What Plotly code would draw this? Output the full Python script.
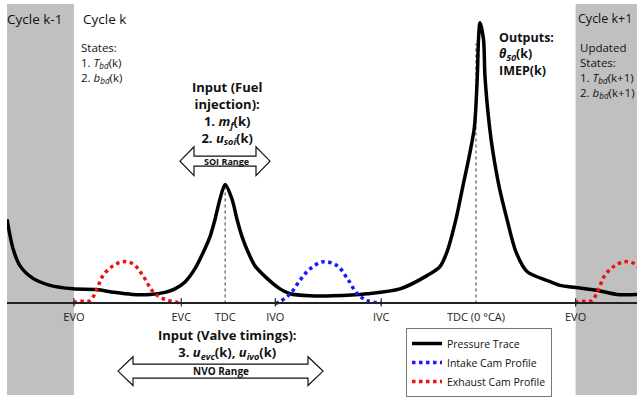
import plotly.graph_objects as go

# ---------------- data (schematic) ----------------
# crank angle in degrees (0 = combustion TDC), pressure in bar (schematic)
theta_p = [-673.1, -664.5, -654.4, -635.8, -611.4, -578.4, -545.1, -519.6, -493.2,
           -467.8, -446.3, -432.0, -417.6, -403.3, -388.9, -381.7, -374.5, -367.4,
           -360.0, -350.2, -343.0, -335.8, -327.2, -317.2, -299.9, -281.3, -266.9,
           -238.2, -205.2, -156.4, -109.1, -70.3, -51.7, -41.6, -28.7, -18.7, -8.6,
           -2.2, 1.9, 3.6, 5.7, 10.8, 12.9, 19.4, 24.4, 33.0, 44.5, 57.4, 73.2,
           101.9, 120.5, 143.5, 173.6, 202.3, 231.1]
pressure = [12.1, 7.9, 5.4, 3.6, 2.6, 2.1, 2.0, 1.6, 1.3,
            1.3, 1.6, 2.1, 3.1, 5.0, 7.9, 9.6, 12.1, 15.0,
            17.1, 15.0, 12.1, 9.6, 7.4, 5.4, 3.6, 2.1, 1.4,
            1.1, 1.1, 1.4, 2.1, 4.0, 5.3, 7.4, 12.1, 16.9, 21.7,
            25.4, 32.6, 37.9, 40.3, 37.9, 32.6, 25.4, 21.7, 16.9, 12.1, 7.4, 4.6,
            3.3, 2.6, 2.3, 1.9, 1.3, 1.3]

# valve events and TDCs (deg)
EVO = -577
EVC = -423
TDC_GE = -360
IVO = -288
IVC = -136
TDC_C = 0
EVO_NEXT = 143

# exhaust cam profile: degrees after EVO, scaled lift
exh_dtheta = [0, 4.3, 23, 33, 41.6, 56, 70.3, 84.7, 99, 113.4, 127.7, 154]
exh_lift = [0.0, 0.3, 0.4, 2.1, 4.0, 5.4, 6.0, 5.7, 4.0, 1.7, 0.7, 0.05]
# intake cam profile: degrees after IVO, scaled lift
int_dtheta = [0, 7.2, 21.5, 35.9, 50.2, 68.9, 89, 103.3, 117.7, 132, 152]
int_lift = [0.0, 0.3, 1.4, 3.4, 5.0, 6.0, 5.4, 3.6, 1.4, 0.4, 0.1]

tick_vals = [EVO, EVC, TDC_GE, IVO, IVC, TDC_C, EVO_NEXT]
tick_text = ["EVO", "EVC", "TDC", "IVO", "IVC", "TDC (0 °CA)", "EVO"]
valve_ticks = [EVO, EVC, IVO, IVC, EVO_NEXT]

X_RANGE = [-673.1, 231.1]
Y_RANGE = [-13.14, 43.0]

# ---------------- layout helpers (pixel -> paper) ----------------
W, H = 637, 397
ML, MT = 7, 4
PW, PH = W - ML, H - MT
FONT = "Open Sans"
TXT = "#111111"


def px(x):
    return (x - ML) / PW


def py(y):
    return (H - y) / PH


def ann(text, x, y, size, xanchor="left", yanchor="middle", bold=False, align="left"):
    if bold:
        text = "<b>" + text + "</b>"
    return dict(text=text, x=px(x), y=py(y), xref="paper", yref="paper",
                xanchor=xanchor, yanchor=yanchor, showarrow=False, align=align,
                font=dict(family=FONT, size=size, color=TXT))


def darrow(cx, cy, half, head, sh, hh):
    pts = [(cx - half, cy), (cx - half + head, cy - hh), (cx - half + head, cy - sh),
           (cx + half - head, cy - sh), (cx + half - head, cy - hh), (cx + half, cy),
           (cx + half - head, cy + hh), (cx + half - head, cy + sh),
           (cx - half + head, cy + sh), (cx - half + head, cy + hh)]
    path = "M " + " L ".join(f"{px(a):.5f},{py(b):.5f}" for a, b in pts) + " Z"
    return dict(type="path", path=path, xref="paper", yref="paper",
                fillcolor="white", line=dict(color="#111", width=1.2), layer="above")


fig = go.Figure()

fig.add_trace(go.Scatter(x=theta_p, y=pressure, mode="lines", name="Pressure Trace",
                         line=dict(color="black", width=3.5, shape="spline", smoothing=0.8)))
fig.add_trace(go.Scatter(x=[IVO + d for d in int_dtheta], y=int_lift, mode="lines",
                         name="Intake Cam Profile",
                         line=dict(color="#1a1aff", width=3.5, dash="dot", shape="spline")))
fig.add_trace(go.Scatter(x=[EVO + d for d in exh_dtheta], y=exh_lift, mode="lines",
                         name="Exhaust Cam Profile",
                         line=dict(color="#ee1111", width=3.5, dash="dot", shape="spline")))
fig.add_trace(go.Scatter(x=[EVO_NEXT + d for d in exh_dtheta], y=exh_lift, mode="lines",
                         showlegend=False,
                         line=dict(color="#ee1111", width=3.5, dash="dot", shape="spline")))

shapes = [
    dict(type="rect", xref="x", yref="paper", x0=X_RANGE[0], x1=EVO, y0=0, y1=1,
         fillcolor="#c0c0c0", line=dict(width=0), layer="below"),
    dict(type="rect", xref="x", yref="paper", x0=EVO_NEXT, x1=X_RANGE[1], y0=0, y1=1,
         fillcolor="#c0c0c0", line=dict(width=0), layer="below"),
    dict(type="line", xref="x", yref="y", x0=TDC_GE, x1=TDC_GE, y0=0,
         y1=pressure[theta_p.index(TDC_GE)], line=dict(color="#333", width=1, dash="dot"),
         layer="below"),
    dict(type="line", xref="x", yref="y", x0=TDC_C, x1=TDC_C, y0=0,
         y1=max(pressure) - 3, line=dict(color="#333", width=1, dash="dot"), layer="below"),
]
for v in valve_ticks:
    shapes.append(dict(type="line", xref="x", yref="y", x0=v, x1=v, y0=-0.45, y1=0.75,
                       line=dict(color="#222", width=1.2)))
shapes.append(darrow(225, 162, 45, 14, 5, 14.5))
shapes.append(darrow(220.5, 373, 102.5, 15, 7, 14.5))

annotations = [
    ann("Cycle k-1", 5, 19, 13.5),
    ann("Cycle k", 81, 19, 13.5),
    ann("States:<br>1. <i>T</i><sub><i>bd</i></sub>(k)<br>2. <i>b</i><sub><i>bd</i></sub>(k)",
        79, 38, 11.5, yanchor="top"),
    ann("Input (Fuel<br>injection):<br>1. <i>m</i><sub><i>f</i></sub>(k)<br>"
        "2. <i>u</i><sub><i>soi</i></sub>(k)", 227, 76, 13, "center", "top", True, "center"),
    ann("SOI Range", 226, 162, 9, "center", bold=True),
    ann("Outputs:<br><i>θ</i><sub><i>50</i></sub>(k)<br>IMEP(k)", 497, 27.5, 12.5,
        yanchor="top", bold=True),
    ann("Cycle k+1", 576, 19, 12.5),
    ann("Updated<br>States:<br>1. <i>T</i><sub><i>bd</i></sub>(k+1)<br>"
        "2. <i>b</i><sub><i>bd</i></sub>(k+1)", 578, 38, 11.5, yanchor="top"),
    ann("Input (Valve timings):<br>3. <i>u</i><sub><i>evc</i></sub>(k), "
        "<i>u</i><sub><i>ivo</i></sub>(k)", 228, 326, 13, "center", "top", True, "center"),
    ann("NVO Range", 221, 373, 10, "center", bold=True),
]

fig.update_layout(
    width=W, height=H, margin=dict(l=ML, r=0, t=MT, b=0),
    paper_bgcolor="white", plot_bgcolor="white",
    font=dict(family=FONT, color=TXT),
    xaxis=dict(range=X_RANGE, showgrid=False, zeroline=False, showline=True,
               linecolor="#222", linewidth=2, anchor="free", position=py(305),
               tickmode="array", tickvals=tick_vals, ticktext=tick_text, ticks="",
               ticklabelstandoff=3,
               tickfont=dict(family=FONT, size=11, color="#222")),
    yaxis=dict(range=Y_RANGE, visible=False, domain=[0, 1]),
    shapes=shapes, annotations=annotations,
    showlegend=True,
    legend=dict(x=px(406), y=py(330), xanchor="left", yanchor="top",
                bgcolor="white", bordercolor="#777", borderwidth=1,
                font=dict(family=FONT, size=10.5, color=TXT), itemwidth=30,
                tracegroupgap=0),
)

fig.write_html("out.html")
